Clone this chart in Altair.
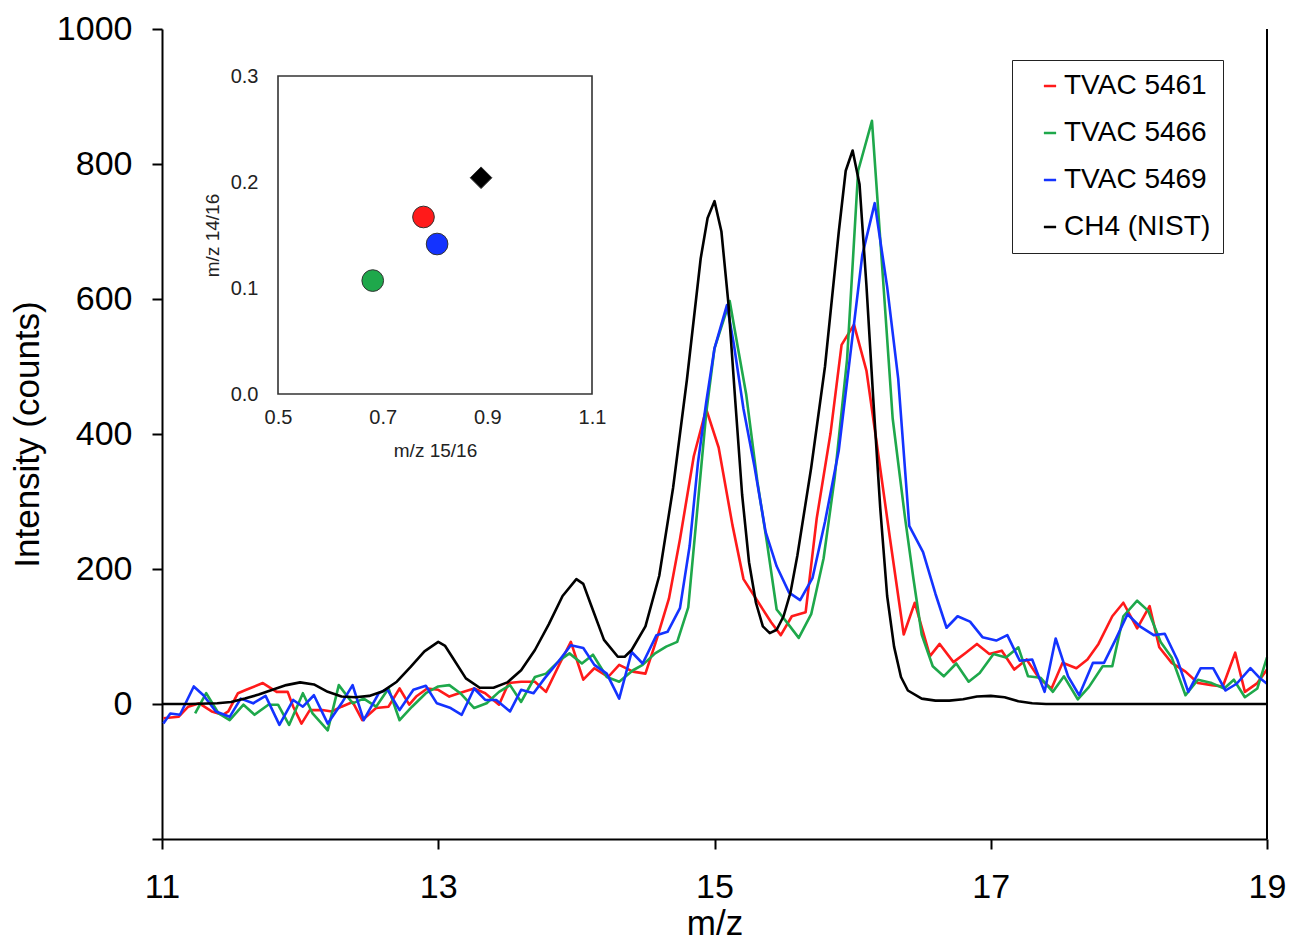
import altair as alt
import pandas as pd

# ---------------- data ----------------
series_names = ["TVAC 5461", "TVAC 5466", "TVAC 5469", "CH4 (NIST)"]
series_colors = ["#ff1a1a", "#1ea84b", "#1433ff", "#000000"]

red_x = [11.01, 11.12, 11.19, 11.27, 11.36, 11.44, 11.48, 11.55, 11.61, 11.73, 11.83, 11.91, 11.95, 12.01,
         12.07, 12.16, 12.23, 12.30, 12.38, 12.45, 12.55, 12.64, 12.72, 12.79, 12.84, 12.92, 13.00, 13.08,
         13.15, 13.26, 13.34, 13.44, 13.51, 13.60, 13.70, 13.78, 13.88, 13.96, 14.05, 14.13, 14.23, 14.31,
         14.41, 14.50, 14.58, 14.67, 14.75, 14.85, 14.94, 15.03, 15.13, 15.21, 15.31, 15.41, 15.48, 15.56,
         15.66, 15.74, 15.84, 15.92, 16.01, 16.10, 16.17, 16.27, 16.37, 16.45, 16.56, 16.63, 16.73, 16.82,
         16.90, 16.99, 17.08, 17.17, 17.26, 17.35, 17.44, 17.52, 17.62, 17.70, 17.78, 17.88, 17.96, 18.06,
         18.15, 18.22, 18.31, 18.41, 18.50, 18.60, 18.68, 18.77, 18.84, 18.93, 19.00]
red_y = [-21, -19, -4, 1, -11, -16, -11, 16, 21, 31, 18, 18, -4, -29,
         -9, -9, -11, -4, 3, -24, -6, -4, 23, -1, 11, 23, 21, 11,
         16, 23, 16, -1, 31, 33, 33, 18, 60, 92, 36, 53, 40, 58,
         48, 45, 95, 156, 244, 367, 437, 380, 265, 185, 153, 121, 102, 130,
         136, 275, 401, 532, 562, 494, 393, 246, 103, 150, 71, 89, 62, 76,
         89, 74, 79, 51, 66, 38, 23, 61, 53, 66, 89, 130, 150, 112,
         145, 84, 61, 48, 31, 28, 26, 76, 18, 31, 51]

green_x = [11.24, 11.32, 11.41, 11.49, 11.59, 11.67, 11.77, 11.84, 11.92, 12.02, 12.09, 12.20, 12.28, 12.38,
           12.46, 12.55, 12.64, 12.72, 12.81, 12.91, 13.00, 13.08, 13.16, 13.26, 13.35, 13.44, 13.52, 13.60,
           13.70, 13.78, 13.88, 13.95, 14.04, 14.12, 14.22, 14.31, 14.41, 14.48, 14.57, 14.65, 14.73, 14.81,
           14.88, 14.94, 15.00, 15.11, 15.17, 15.23, 15.31, 15.38, 15.45, 15.52, 15.61, 15.70, 15.79, 15.87,
           15.96, 16.04, 16.14, 16.22, 16.29, 16.38, 16.44, 16.50, 16.58, 16.66, 16.75, 16.84, 16.92, 17.02,
           17.11, 17.20, 17.27, 17.36, 17.45, 17.53, 17.63, 17.71, 17.81, 17.88, 17.96, 18.06, 18.14, 18.23,
           18.31, 18.41, 18.50, 18.60, 18.69, 18.76, 18.84, 18.93, 19.00]
green_y = [-14, 16, -14, -24, -1, -16, -1, -1, -31, 16, -14, -39, 28, 1,
           8, -4, 23, -24, -4, 16, 26, 28, 16, -6, 1, 18, 28, 3,
           40, 45, 65, 75, 60, 73, 40, 33, 50, 58, 75, 85, 92, 143,
           298, 431, 527, 597, 527, 458, 330, 239, 140, 122, 98, 133, 216, 335,
           511, 790, 864, 630, 423, 275, 186, 103, 56, 41, 60, 33, 46, 74,
           69, 84, 41, 39, 18, 41, 7, 25, 56, 56, 130, 153, 138, 92,
           69, 13, 36, 31, 23, 36, 10, 23, 69]

blue_x = [11.01, 11.06, 11.13, 11.23, 11.30, 11.39, 11.49, 11.57, 11.66, 11.75, 11.85, 11.95, 12.02, 12.10,
          12.20, 12.30, 12.38, 12.46, 12.57, 12.63, 12.72, 12.82, 12.91, 12.99, 13.09, 13.17, 13.26, 13.34,
          13.42, 13.52, 13.60, 13.69, 13.77, 13.87, 13.96, 14.05, 14.13, 14.22, 14.31, 14.40, 14.48, 14.58,
          14.66, 14.75, 14.82, 14.88, 14.94, 15.00, 15.09, 15.14, 15.21, 15.29, 15.37, 15.45, 15.54, 15.62,
          15.71, 15.80, 15.90, 15.98, 16.07, 16.16, 16.25, 16.33, 16.41, 16.51, 16.60, 16.68, 16.76, 16.85,
          16.94, 17.04, 17.12, 17.21, 17.30, 17.39, 17.47, 17.56, 17.64, 17.74, 17.82, 17.90, 17.99, 18.08,
          18.18, 18.26, 18.35, 18.43, 18.52, 18.61, 18.70, 18.78, 18.88, 18.95, 19.00]
blue_y = [-29, -14, -16, 26, 13, -11, -19, 8, 1, 12, -31, 6, -4, 13,
          -29, 1, 28, -24, 16, 22, -9, 21, 27, 1, -6, -16, 23, 6,
          6, -11, 21, 16, 38, 63, 87, 83, 58, 45, 8, 77, 60, 102,
          107, 142, 234, 357, 447, 527, 591, 533, 437, 351, 255, 204, 165, 154,
          187, 270, 376, 512, 665, 742, 618, 482, 264, 225, 163, 113, 130, 122,
          99, 94, 102, 64, 66, 18, 97, 41, 13, 61, 61, 94, 133, 115,
          102, 104, 66, 18, 53, 53, 20, 30, 53, 38, 30]

black_x = [11.0, 11.2, 11.4, 11.5, 11.6, 11.7, 11.8, 11.9, 12.0, 12.1, 12.2, 12.3, 12.4, 12.5, 12.6, 12.7,
           12.8, 12.9, 13.0, 13.05, 13.1, 13.2, 13.3, 13.4, 13.5, 13.6, 13.7, 13.8, 13.9, 14.0, 14.05, 14.1,
           14.2, 14.3, 14.35, 14.4, 14.5, 14.6, 14.7, 14.8, 14.9, 14.95, 15.0, 15.05, 15.1, 15.15, 15.2, 15.25,
           15.3, 15.35, 15.4, 15.45, 15.5, 15.55, 15.6, 15.7, 15.8, 15.9, 15.95, 16.0, 16.05, 16.1, 16.15,
           16.2, 16.25, 16.3, 16.35, 16.4, 16.5, 16.6, 16.7, 16.8, 16.9, 17.0, 17.1, 17.2, 17.3, 17.4, 18.0, 19.0]
black_y = [0, 0, 1, 3, 8, 14, 21, 28, 32, 29, 18, 11, 10, 12, 19, 33,
           55, 78, 92, 86, 70, 38, 24, 24, 32, 50, 80, 118, 160, 185, 178, 150,
           95, 70, 70, 80, 115, 190, 320, 480, 660, 720, 745, 700, 595, 450, 310, 210,
           150, 115, 105, 110, 130, 165, 220, 350, 500, 700, 790, 820, 770, 620, 450,
           290, 160, 85, 40, 20, 8, 5, 5, 7, 11, 12, 10, 4, 1, 0, 0, 0]

# inset: m/z 15/16 vs m/z 14/16 ratios
inset_r15 = [0.778, 0.681, 0.804, 0.888]
inset_r14 = [0.167, 0.107, 0.1415, 0.204]
inset_shapes = ["circle", "circle", "circle", "diamond"]
inset_sizes = [470, 470, 470, 620]

x_ticks = [11, 13, 15, 17, 19]
y_ticks = [-200, 0, 200, 400, 600, 800, 1000]
inset_x_ticks = [0.5, 0.7, 0.9, 1.1]
inset_y_ticks = [0.0, 0.1, 0.2, 0.3]

# ---------------- build tables ----------------
rows = []
for name, xs, ys in zip(series_names, [red_x, green_x, blue_x, black_x], [red_y, green_y, blue_y, black_y]):
    for i, (a, b) in enumerate(zip(xs, ys)):
        rows.append({"series": name, "mz": a, "counts": b, "idx": i})
spec_df = pd.DataFrame(rows)
inset_df = pd.DataFrame({"sample": series_names, "r15": inset_r15, "r14": inset_r14})

FONT = "Liberation Sans"
W, H = 1105, 810

xscale = alt.Scale(domain=[11, 19], nice=False, zero=False)
yscale = alt.Scale(domain=[-200, 1000], nice=False, zero=False)

lines = alt.Chart(spec_df).mark_line(strokeWidth=2.6, strokeJoin="round").encode(
    x=alt.X("mz:Q", scale=xscale,
            axis=alt.Axis(values=x_ticks, format="d", title="m/z", grid=False, domainColor="black",
                          domainWidth=2, tickColor="black", tickWidth=2, tickSize=10, labelPadding=21,
                          labelFontSize=34, titleFontSize=35, labelFont=FONT, titleFont=FONT,
                          labelColor="black", titleColor="black", titleFontWeight="normal",
                          titlePadding=2, labelFlush=False)),
    y=alt.Y("counts:Q", scale=yscale,
            axis=alt.Axis(values=y_ticks, format="d", title="Intensity (counts)", grid=False,
                          domainColor="black", domainWidth=2, tickColor="black", tickWidth=2, tickSize=10,
                          labelPadding=20, labelFontSize=34, titleFontSize=35, labelFont=FONT,
                          titleFont=FONT, labelColor="black", titleColor="black",
                          titleFontWeight="normal", titlePadding=11, labelFlush=False,
                          labelExpr="datum.value < 0 ? '' : datum.label")),
    color=alt.Color("series:N", scale=alt.Scale(domain=series_names, range=series_colors),
                    legend=alt.Legend(title=None, orient="none", legendX=850, legendY=31,
                                      symbolType="stroke", symbolSize=150, symbolStrokeWidth=2.5,
                                      labelFontSize=28, labelFont=FONT, labelColor="black",
                                      labelOffset=0, rowPadding=19, padding=12, symbolOffset=12,
                                      strokeColor="#222222", fillColor="white")),
    order="idx:Q",
)

right_border = alt.Chart(pd.DataFrame({"k": [0]})).mark_rule(color="black", strokeWidth=2).encode(
    x=alt.datum(19), y=alt.datum(-200), y2=alt.datum(1000)
)

main = alt.layer(lines, right_border)

ixs = alt.Scale(domain=[0.5, 1.1], range=[116, 430], nice=False, zero=False)
iys = alt.Scale(domain=[0.0, 0.3], range=[365, 47], nice=False, zero=False)

frame = alt.Chart(pd.DataFrame({"k": [0]})).mark_rect(fill="white", stroke="#333333", strokeWidth=1.6).encode(
    x=alt.X(datum=0.5, scale=ixs), x2=alt.datum(1.1),
    y=alt.Y(datum=0.0, scale=iys), y2=alt.datum(0.3),
)

pts = alt.Chart(inset_df).mark_point(filled=True, opacity=1, stroke="#333333", strokeWidth=1).encode(
    x=alt.X("r15:Q", scale=ixs,
            axis=alt.Axis(orient="bottom", offset=-(H - 365), values=inset_x_ticks, format=".1f",
                          title="m/z 15/16", grid=False, domain=False, ticks=False, labelPadding=13,
                          labelFontSize=20, titleFontSize=19, labelFont=FONT, titleFont=FONT,
                          labelColor="#222222", titleColor="#222222", titleFontWeight="normal",
                          titlePadding=14, labelFlush=False)),
    y=alt.Y("r14:Q", scale=iys,
            axis=alt.Axis(orient="left", offset=-116, values=inset_y_ticks, format=".1f",
                          title="m/z 14/16", grid=False, domain=False, ticks=False, labelPadding=20,
                          labelFontSize=20, titleFontSize=19, labelFont=FONT, titleFont=FONT,
                          labelColor="#222222", titleColor="#222222", titleFontWeight="normal",
                          titlePadding=8, labelFlush=False)),
    fill=alt.Fill("sample:N", scale=alt.Scale(domain=series_names, range=series_colors), legend=None),
    shape=alt.Shape("sample:N", scale=alt.Scale(domain=series_names, range=inset_shapes), legend=None),
    size=alt.Size("sample:N", scale=alt.Scale(domain=series_names, range=inset_sizes), legend=None),
)

inset = alt.layer(frame, pts)

chart = alt.layer(main, inset).resolve_scale(
    x="independent", y="independent", fill="independent", shape="independent", size="independent"
).properties(
    width=W, height=H,
    autosize=alt.AutoSizeParams(type="none"),
    padding={"left": 154, "top": 21, "right": 20, "bottom": 104},
    background="white",
).configure_view(strokeWidth=0)

chart.save("out.html", embed_options={"renderer": "svg", "actions": False})
